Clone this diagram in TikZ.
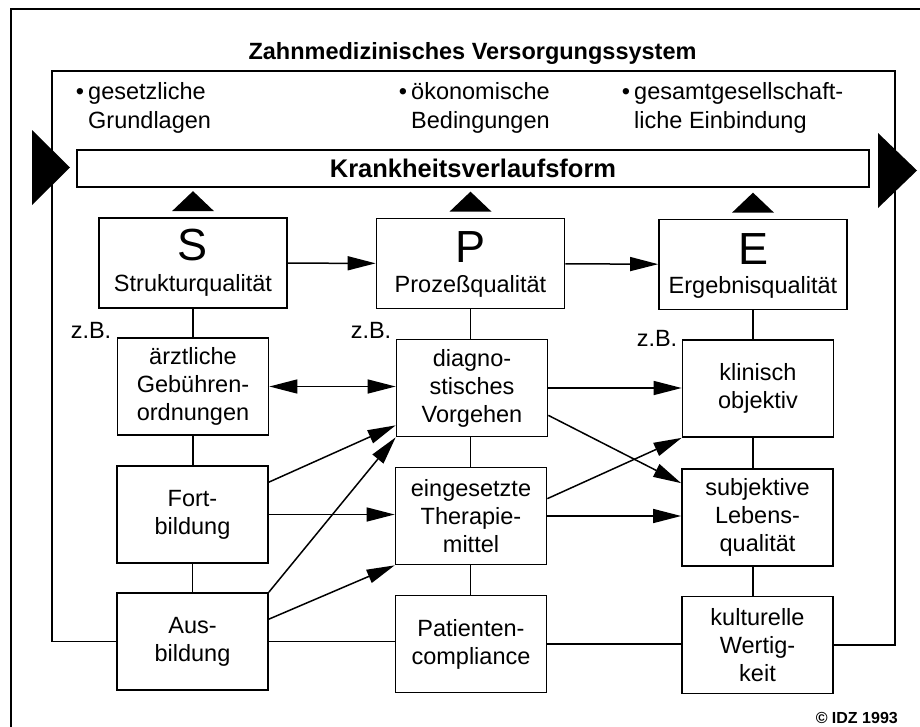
\documentclass[tikz,border=0pt]{standalone}
\usepackage{fontspec}
\setmainfont{Liberation Sans}
\usetikzlibrary{arrows.meta,calc}
\newcommand\rsTxt{\fontsize{23.5}{28}\selectfont}
\newcommand\rsBig{\fontsize{45}{45}\selectfont}
\newcommand\rsBold{\fontsize{23.5}{28}\selectfont\bfseries}
\newcommand\rsBar{\fontsize{25.5}{28}\selectfont\bfseries}
\newcommand\rsSmall{\fontsize{16}{18}\selectfont\bfseries}
\begin{document}
\begin{tikzpicture}[x=1pt,y=-1pt,
  bigbox/.style={draw, line width=1.7pt, inner sep=0pt, minimum width=188pt, minimum height=90pt},
  sbox/.style={draw, line width=1.7pt, inner sep=0pt, minimum width=151pt, minimum height=97pt, align=center, font=\rsTxt},
  txt/.style={inner sep=0pt, font=\rsTxt},
  ln/.style={line width=1.5pt},
  arr/.style={line width=1.5pt, -{Triangle[length=28pt,width=14pt]}},
  darr/.style={line width=1.5pt, {Triangle[length=28pt,width=14pt]}-{Triangle[length=28pt,width=14pt]}}]
\useasboundingbox (0,0) rectangle (920,726);
\fill[white] (0,0) rectangle (920,726);
% outer border (only left and top visible)
\coordinate (obl) at (11,740);
\coordinate (otl) at (11,9);
\coordinate (otr) at (935,9);
\draw[line width=1.6pt] (obl) -- (otl) -- (otr);
% title
\node[anchor=base, inner sep=0pt, font=\rsBold] (title) at (472.5,59) {Zahnmedizinisches Versorgungssystem};
% bullets
\node[txt, anchor=base west] (b1a) at (88,99) {\llap{•\hspace{4pt}}gesetzliche};
\node[txt, anchor=base west] (b1b) at (88,128) {Grundlagen};
\node[txt, anchor=base west] (b2a) at (411,99) {\llap{•\hspace{4pt}}ökonomische};
\node[txt, anchor=base west] (b2b) at (411,128) {Bedingungen};
\node[txt, anchor=base west] (b3a) at (634,99) {\llap{•\hspace{4pt}}gesamtgesellschaft-};
\node[txt, anchor=base west] (b3b) at (634,128) {liche Einbindung};
% bar
\node[draw, line width=1.7pt, inner sep=0pt, minimum width=792pt, minimum height=37pt, font=\rsBar] (bar) at (473,168.5) {Krankheitsverlaufsform};
% big triangles
\fill (32,130) -- (70,167.5) -- (32,205) -- cycle;
\fill (878,133) -- (917,170.5) -- (878,208) -- cycle;
% S P E boxes
\node[bigbox] (S) at (193,263) {};
\node[bigbox] (P) at (470.5,263.5) {};
\node[bigbox] (E) at (753,264.5) {};
\node[anchor=base, inner sep=0pt, font=\rsBig] (Sl) at (193,260) {S};
\node[anchor=base, inner sep=0pt, font=\rsBig] (Pl) at (470.5,262) {P};
\node[anchor=base, inner sep=0pt, font=\rsBig] (El) at (753,264) {E};
\node[txt, anchor=base] (Sq) at (193,291) {Strukturqualität};
\node[txt, anchor=base] (Pq) at (470.5,292) {Prozeßqualität};
\node[txt, anchor=base] (Eq) at (753,293) {Ergebnisqualität};
\foreach \n in {S,P,E} \fill ($(\n.north)+(-21,-6)$) -- ($(\n.north)+(21,-6)$) -- ($(\n.north)+(0,-26)$) -- cycle;
% z.B.
\node[txt, anchor=base] (zb1) at (91,338) {z.B.};
\node[txt, anchor=base] (zb2) at (371,338) {z.B.};
\node[txt, anchor=base] (zb3) at (657,346) {z.B.};
% small boxes
\node[sbox] (aerzt) at (193,386.5) {ärztliche\\Gebühren-\\ordnungen};
\node[sbox] (fort) at (192.5,514.5) {Fort-\\bildung};
\node[sbox] (aus) at (192.5,641.5) {Aus-\\bildung};
\node[sbox] (diag) at (472,388) {diagno-\\stisches\\Vorgehen};
\node[sbox] (einge) at (471,516) {eingesetzte\\Therapie-\\mittel};
\node[sbox] (pat) at (471,644) {Patienten-\\compliance};
\node[sbox] (klin) at (758,388.5) {klinisch\\objektiv};
\node[sbox] (subj) at (757.5,517.5) {subjektive\\Lebens-\\qualität};
\node[sbox] (kult) at (757.5,645) {kulturelle\\Wertig-\\keit};
% vertical links
\draw[ln] (S.south) -- (S.south |- aerzt.north);
\draw[ln] (aerzt.south) -- (aerzt.south |- fort.north);
\draw[ln] (fort.south) -- (fort.south |- aus.north);
\draw[ln] (P.south) -- (P.south |- diag.north);
\draw[ln] (diag.south -| P.south) -- (einge.north -| P.south);
\draw[ln] (einge.south -| P.south) -- (pat.north -| P.south);
\draw[ln] (E.south) -- (E.south |- klin.north);
\draw[ln] (klin.south -| E.south) -- (subj.north -| E.south);
\draw[ln] (subj.south -| E.south) -- (kult.north -| E.south);
% horizontal top arrows
\draw[arr] (S) -- (P);
\draw[arr] (P) -- (E);
% frame
\coordinate (ftl) at (52,71);
\coordinate (ftr) at (895,71);
\draw[ln] (aus.west) -- (aus.west -| ftl) -- (ftl) -- (ftr) -- (ftr |- kult.east) -- (kult.east);
% connectors
\draw[darr] (aerzt.east) -- (aerzt.east -| diag.west);
\draw[arr] (diag.east) -- (diag.east -| klin.west);
\draw[arr] ($(diag.south east)+(0,-22)$) -- ($(subj.north west)+(0,15)$);
\draw[arr] ($(einge.north east)+(0,32)$) -- (klin.south west);
\draw[arr] (einge.east) -- (einge.east -| subj.west);
\draw[arr] ($(fort.north east)+(0,17)$) -- ($(diag.south west)+(0,-12)$);
\draw[arr] (fort.east) -- (fort.east -| einge.west);
\draw[arr] (aus.north east) -- (diag.south west);
\draw[arr] ($(aus.north east)+(0,27)$) -- (einge.south west);
\draw[ln] (aus.east) -- (aus.east -| pat.west);
\draw[ln] (pat.east) -- (pat.east -| kult.west);
% copyright
\node[anchor=base east, inner sep=0pt, font=\rsSmall] (copy) at (898,723) {© IDZ 1993};
\end{tikzpicture}
\end{document}
